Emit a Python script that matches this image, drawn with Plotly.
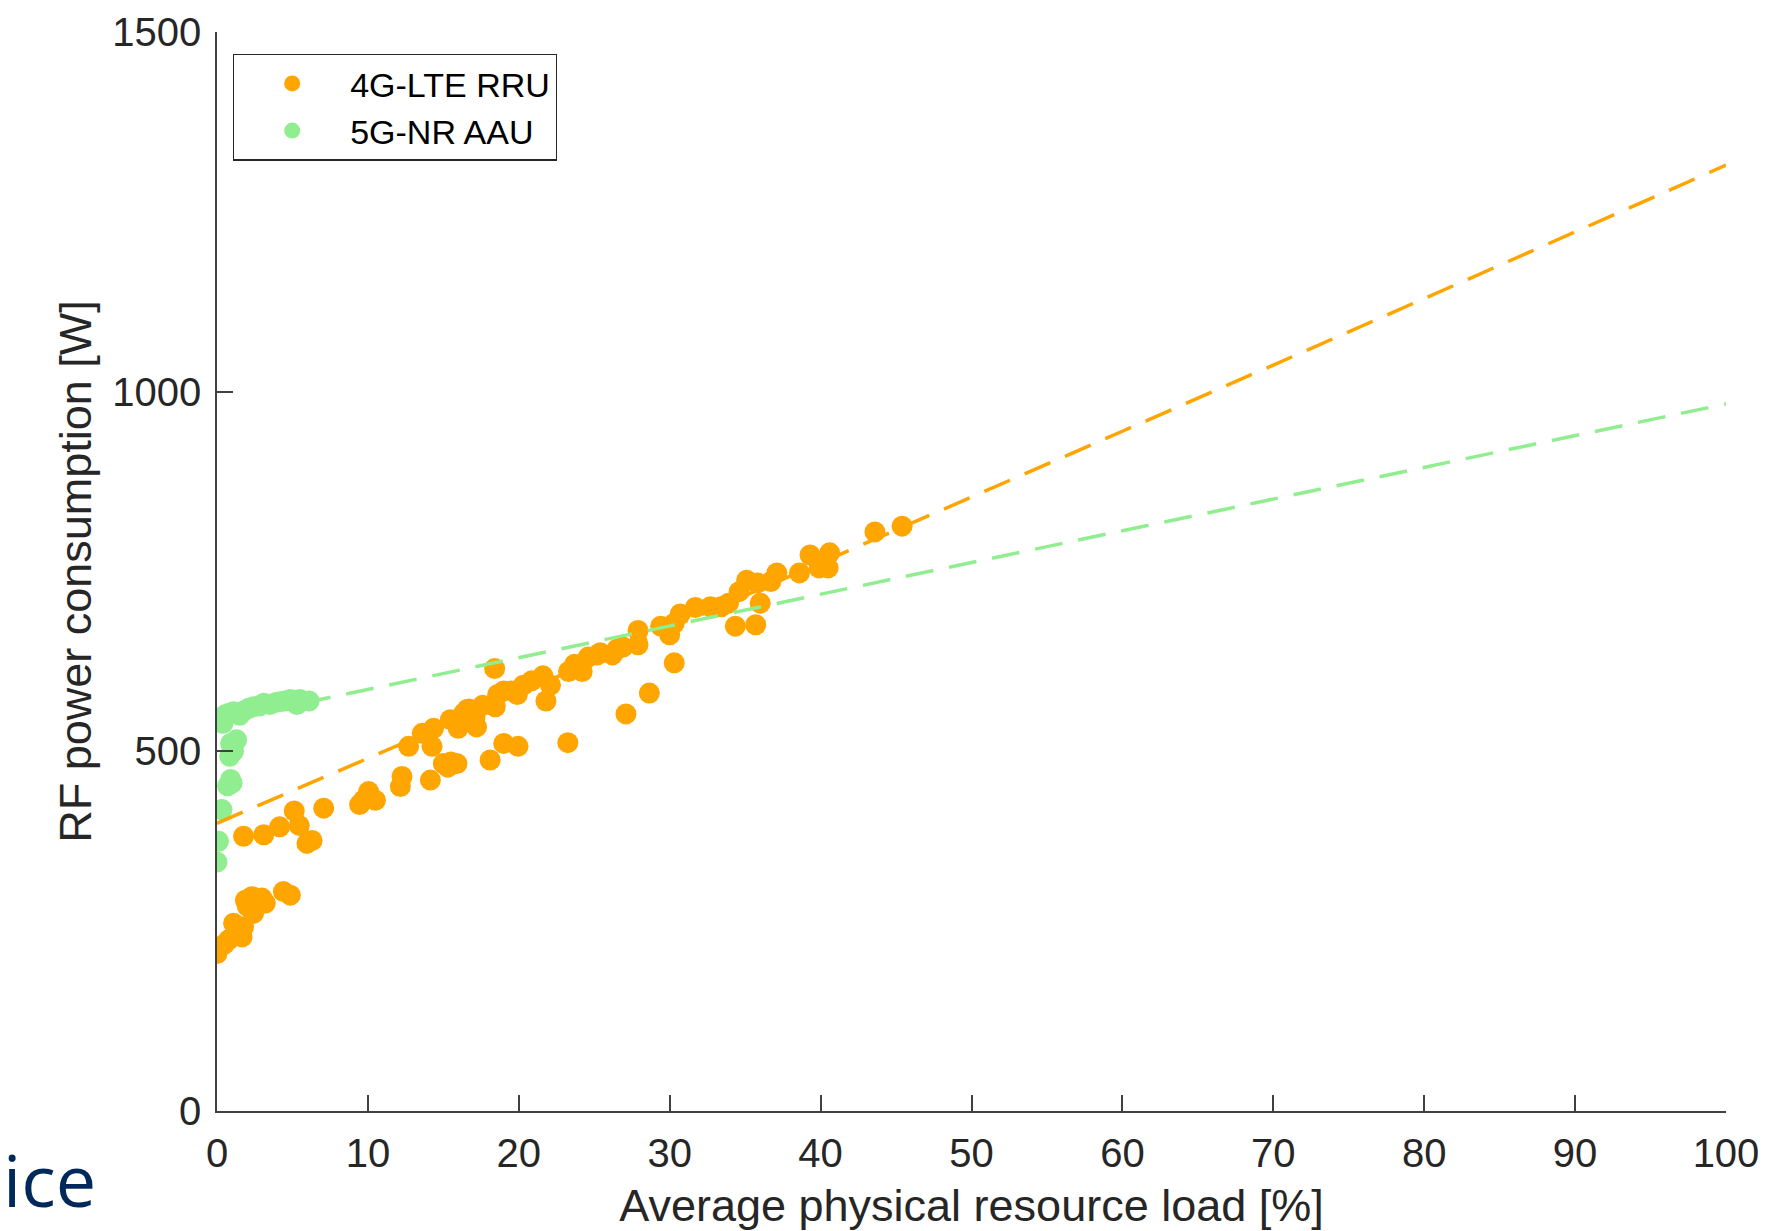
import plotly.graph_objects as go

# ---- Data ----
lte_load = [0.0, 0.1, 0.5, 0.77, 1.1, 1.3, 1.66, 1.76, 1.88, 2.0, 2.3, 2.43, 2.7, 2.98, 3.2, 4.4, 4.86,
            1.76, 3.1, 4.15, 5.12, 5.45, 5.96, 6.3, 7.07,
            9.45, 9.7, 10.05, 10.5, 12.15, 12.26, 12.7, 13.6, 14.14, 14.25, 14.35, 15.0, 15.3, 15.5,
            15.46, 15.98, 15.9, 16.35, 16.57, 16.7, 17.1, 17.2, 17.6, 18.1, 18.4, 18.44, 18.6, 19.0,
            19.0, 19.5, 19.95, 19.9, 20.3, 20.85, 21.6, 21.8, 22.1, 23.25, 23.3, 23.7, 24.2, 24.6,
            25.2, 25.4, 26.2, 26.5, 26.9, 27.1, 27.9, 27.9, 28.65, 29.4, 30.0, 30.3, 30.3, 30.7,
            31.7, 32.7, 33.4, 33.9, 34.35, 34.6, 35.1, 35.7, 35.8, 36.0, 36.7, 37.1, 38.6, 39.3,
            39.9, 40.5, 40.6, 43.6, 45.4]
lte_power = [219, 226, 232, 238, 261, 250, 242, 256, 293, 285, 298, 275, 290, 296, 289, 305, 300,
             382, 384, 395, 417, 397, 372, 376, 421,
             426, 432, 444, 432, 451, 465, 507, 525, 460, 507, 532, 483, 478, 485,
             544, 532, 483, 553, 558, 559, 548, 534, 564, 488, 615, 562, 579, 584,
             511, 584, 507, 579, 592, 598, 605, 570, 592, 512, 611, 621, 611, 631,
             634, 637, 634, 642, 645, 552, 648, 668, 581, 674, 662, 678, 623, 691,
             700, 701, 701, 706, 674, 722, 738, 676, 734, 706, 736, 748, 748, 773,
             755, 755, 776, 805, 813]

nr_load = [0.0, 0.1, 0.33, 0.7, 0.9, 1.0, 0.84, 1.1, 0.9, 1.3, 0.4, 0.22, 0.55, 0.8, 1.1, 1.5,
           1.76, 2.1, 2.43, 2.8, 3.1, 3.5, 3.9, 4.2, 4.5, 4.86, 5.3, 5.5, 6.1]
nr_power = [346, 375, 419, 452, 461, 456, 493, 500, 511, 516, 539, 544, 551, 553, 555, 550,
            556, 560, 562, 563, 567, 565, 568, 569, 570, 572, 565, 572, 570]

fit_load = [0, 10, 20, 30, 40, 50, 60, 70, 80, 90, 100]
lte_fit = [400, 490, 580, 671, 762, 853, 945, 1037, 1129, 1222, 1315]
nr_fit = [542, 586, 630, 674, 718, 762, 806, 850, 895, 939, 983]

x_ticks = [0, 10, 20, 30, 40, 50, 60, 70, 80, 90, 100]
y_ticks = [0, 500, 1000, 1500]

ORANGE = "#FFA500"
GREEN = "#90EE90"
FONT = "Liberation Sans, Arial, sans-serif"
TXT = "#262626"

fig = go.Figure()
fig.add_trace(go.Scatter(x=lte_load, y=lte_power, mode="markers", name="4G-LTE RRU",
                         marker=dict(color=ORANGE, size=21, line=dict(width=0))))
fig.add_trace(go.Scatter(x=nr_load, y=nr_power, mode="markers", name="5G-NR AAU",
                         marker=dict(color=GREEN, size=21, line=dict(width=0))))
fig.add_trace(go.Scatter(x=fit_load, y=lte_fit, mode="lines", showlegend=False,
                         line=dict(color=ORANGE, width=3.5, dash="28px,16px")))
fig.add_trace(go.Scatter(x=fit_load, y=nr_fit, mode="lines", showlegend=False,
                         line=dict(color=GREEN, width=3.5, dash="28px,16px")))

axis_common = dict(showline=True, linecolor="#404040", linewidth=1.5, ticks="inside",
                   ticklen=16, tickwidth=1.5, tickcolor="#404040", showgrid=False,
                   zeroline=False, mirror=False, automargin=False, ticklabelstandoff=6,
                   tickfont=dict(family=FONT, size=40, color=TXT))

fig.update_xaxes(range=[0, 100], tickvals=x_ticks,
                 title=dict(text="Average physical resource load [%]",
                            font=dict(family=FONT, size=45, color=TXT), standoff=17),
                 **axis_common)
fig.update_yaxes(range=[0, 1500], tickvals=y_ticks,
                 title=dict(text="RF power consumption [W]",
                            font=dict(family=FONT, size=45, color=TXT), standoff=7),
                 **axis_common)

fig.add_annotation(text="ice", xref="paper", yref="paper", x=-0.079, y=-0.063,
                   xanchor="right", yanchor="middle", showarrow=False,
                   font=dict(family="Open Sans, Noto Sans, sans-serif", size=72, color="#00285A"))

fig.update_layout(
    width=1773, height=1231,
    margin=dict(l=217, r=47, t=32, b=120),
    plot_bgcolor="white", paper_bgcolor="white",
    legend=dict(x=0.0106, y=0.98, xanchor="left", yanchor="top",
                bgcolor="white", bordercolor=TXT, borderwidth=1.2,
                font=dict(family=FONT, size=34, color="black"),
                itemwidth=106, tracegroupgap=0),
)

# remove the default 8 px body margin so the figure sits at the page corner
fig.write_html("out.html", config={"displayModeBar": False},
               post_script="document.body.style.margin='0';")
